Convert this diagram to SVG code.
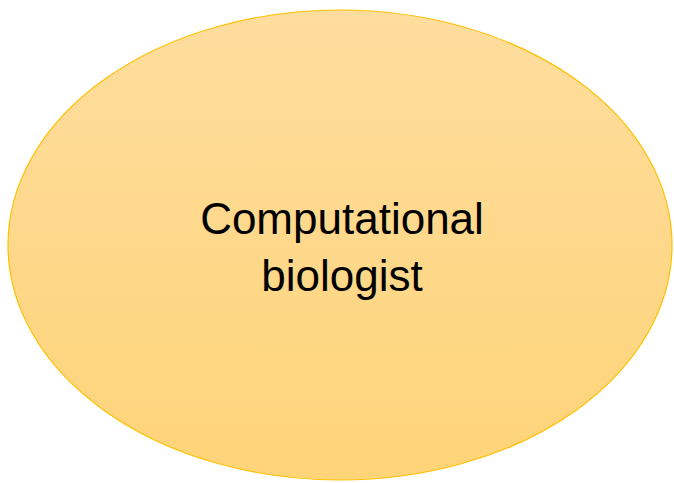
<svg xmlns="http://www.w3.org/2000/svg" width="674" height="483" viewBox="0 0 674 483">
  <style>
    .node-shape { stroke: #FFC000; stroke-width: 1.2; }
    .label { font-family: "Liberation Sans", Arial, sans-serif; font-size: 44px; fill: #000000; text-anchor: middle; }
  </style>
  <defs>
    <linearGradient id="fillGrad" x1="0" y1="0" x2="0" y2="1">
      <stop offset="0" stop-color="#FEDD9E"/>
      <stop offset="1" stop-color="#FED478"/>
    </linearGradient>
  </defs>
  <rect width="674" height="483" fill="#FFFFFF"/>
  <g id="connectors"></g>
  <g id="node-computational-biologist">
    <ellipse class="node-shape" cx="340" cy="245" rx="332" ry="235" fill="url(#fillGrad)"/>
    <text class="label" x="342" y="234">Computational</text>
    <text class="label" x="342" y="291">biologist</text>
  </g>
</svg>
